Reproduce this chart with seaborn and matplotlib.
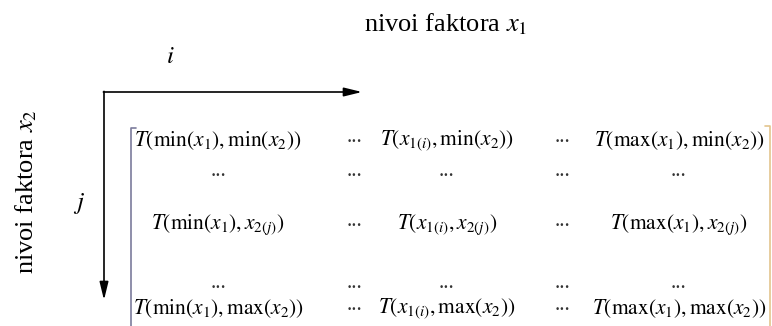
import matplotlib
matplotlib.use("Agg")
import matplotlib.pyplot as plt
import seaborn as sns

sns.set_theme(style="white")
plt.rcParams['font.family'] = ['Liberation Serif', 'DejaVu Serif']
plt.rcParams['mathtext.fontset'] = 'stix'
plt.rcParams['text.color'] = 'black'

# levels of the two factors
x1_levels = [r"\mathrm{min}(x_1)", r"x_{1(i)}", r"\mathrm{max}(x_1)"]
x2_levels = [r"\mathrm{min}(x_2)", r"x_{2(j)}", r"\mathrm{max}(x_2)"]
title_x = r"nivoi faktora $x_{\mathit{1}}$"
title_y = r"nivoi faktora $x_{\mathit{2}}$"
dots = "..."

# layout (pixels)
col_x = [218, 355, 447, 563, 679]   # value, dots, value, dots, value
row_y = [141, 176, 225, 288, 309]   # value, dots, value, dots, value
corner = (104, 92)

fig = plt.figure(figsize=(7.72, 3.26), dpi=100)
ax = fig.add_axes([0, 0, 1, 1])
ax.set_xlim(0, 772)
ax.set_ylim(326, 0)
ax.axis('off')

# titles
ax.text(446, 24, title_x, fontsize=19, ha='center', va='center')
ax.text(26, 192, title_y, fontsize=19, ha='center', va='center', rotation=90)
ax.text(170, 57, r"$i$", fontsize=18, ha='center', va='center')
ax.text(79, 203, r"$j$", fontsize=18, ha='center', va='center')

# arrows
arrow = dict(arrowstyle='-|>,head_length=0.9,head_width=0.22', color='black', lw=1.2,
             shrinkA=0, shrinkB=0)
ax.annotate('', xy=(362, corner[1]), xytext=(corner[0] - 0.6, corner[1]), arrowprops=arrow)
ax.annotate('', xy=(corner[0], 300), xytext=(corner[0], corner[1] - 0.6), arrowprops=arrow)

# matrix brackets
ax.plot([136, 131, 131], [128, 128, 326], color='#7c7c9c', lw=1.2)
ax.plot([765, 770, 770], [126, 126, 326], color='#e3c58e', lw=1.2)

# matrix cells
value_rows = [0, 2, 4]
value_cols = [0, 2, 4]
for r, lev2 in zip(value_rows, x2_levels):
    for c, lev1 in zip(value_cols, x1_levels):
        ax.text(col_x[c], row_y[r], rf"$T({lev1},{lev2})$", fontsize=15.5,
                ha='center', va='center')
    for c in [1, 3]:
        ax.text(col_x[c], row_y[r] - 3, dots, fontsize=15, ha='center', va='center',
                color='#333333')
for r in [1, 3]:
    for c in range(5):
        ax.text(col_x[c], row_y[r] - 5, dots, fontsize=15, ha='center', va='center',
                color='#333333')

fig.savefig("out.png", dpi=100)
